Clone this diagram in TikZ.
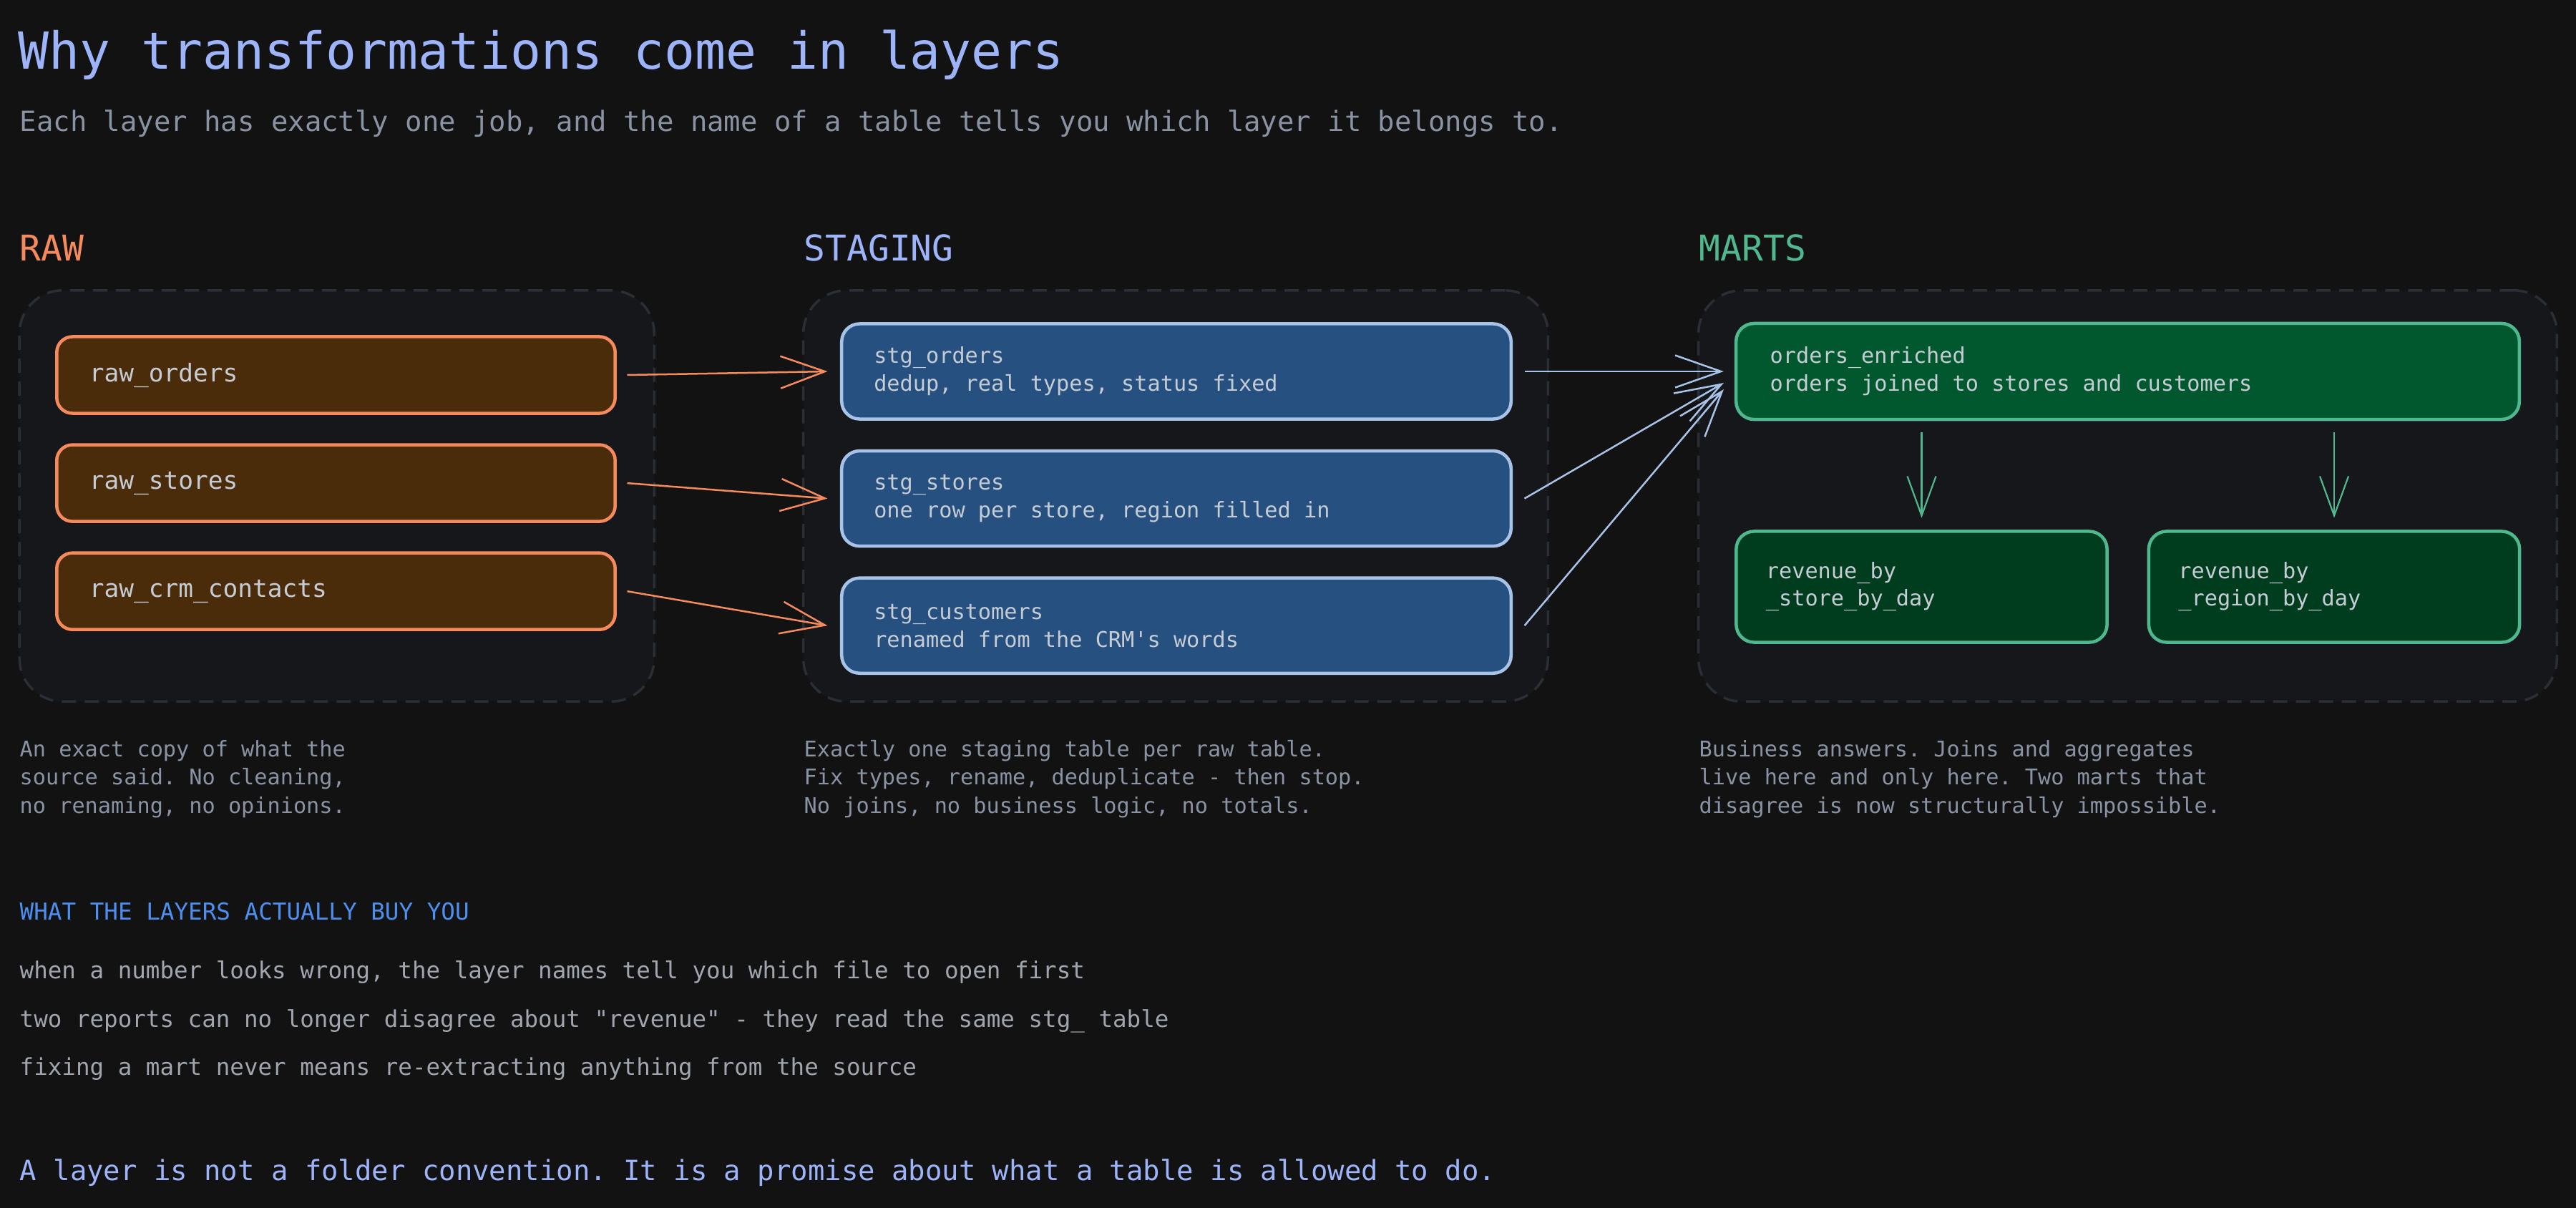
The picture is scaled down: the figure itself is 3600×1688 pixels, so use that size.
\documentclass[tikz,border=0pt]{standalone}
\usepackage{fontspec}
\setmonofont{DejaVu Sans Mono}
\usepackage{tikz}
\usetikzlibrary{shapes,arrows,arrows.meta,calc,positioning}

\definecolor{bg}{HTML}{121212}
\definecolor{layerfill}{HTML}{16171A}
\definecolor{layeredge}{HTML}{2A2E35}
\definecolor{rawedge}{HTML}{F58B5C}
\definecolor{rawfill}{HTML}{4B2C0A}
\definecolor{stgedge}{HTML}{A8C3E8}
\definecolor{stgfill}{HTML}{25507F}
\definecolor{martedge}{HTML}{50B88E}
\definecolor{martfill}{HTML}{02582E}
\definecolor{martdark}{HTML}{003D1F}
\definecolor{titleblue}{HTML}{9DB4FA}
\definecolor{labeltext}{HTML}{C6CCD4}
\definecolor{muted}{HTML}{8A93A3}
\definecolor{accent}{HTML}{4D8FF0}
\definecolor{bullettext}{HTML}{A0A5AE}

\tikzstyle{layer} = [draw=layeredge, fill=layerfill, rectangle, dash pattern=on 0.2cm off 0.12cm, line width=0.035cm, rounded corners=0.6cm]
\tikzstyle{head} = [anchor=base west, inner sep=0pt, font=\ttfamily\fontsize{14.1pt}{17pt}\selectfont]
\tikzstyle{note} = [anchor=base west, inner sep=0pt, text=muted, font=\ttfamily\fontsize{8.6pt}{11.24pt}\selectfont]
\tikzstyle{bullet} = [anchor=base west, inner sep=0pt, text=bullettext, font=\ttfamily\fontsize{9.25pt}{11pt}\selectfont]
\tikzstyle{tablebox} = [rectangle, line width=0.045cm, text=labeltext, execute at begin node={\frenchspacing\spaceskip=0.602em\relax}]
\tikzstyle{rawbox} = [tablebox, draw=rawedge, fill=rawfill, rounded corners=0.22cm, minimum height=1.07cm, text width=6.89cm, inner xsep=0.455cm, font=\ttfamily\fontsize{9.8pt}{12pt}\selectfont]
\tikzstyle{stgbox} = [tablebox, draw=stgedge, fill=stgfill, rounded corners=0.25cm, minimum height=1.33cm, text width=8.45cm, inner xsep=0.45cm, font=\ttfamily\fontsize{8.6pt}{11.1pt}\selectfont]
\tikzstyle{martbox} = [tablebox, draw=martedge, fill=martfill, rounded corners=0.25cm, minimum height=1.34cm, text width=9.99cm, inner xsep=0.475cm, font=\ttfamily\fontsize{8.6pt}{11.1pt}\selectfont]
\tikzstyle{revbox} = [martbox, fill=martdark, minimum height=1.55cm, text width=4.35cm, inner xsep=0.415cm, font=\ttfamily\fontsize{8.6pt}{10.8pt}\selectfont]
\tikzstyle{rawline} = [draw=rawedge, line width=0.025cm, -{Straight Barb[length=0.62cm, width=0.45cm]}]
\tikzstyle{stgline} = [draw=stgedge, line width=0.025cm, -{Straight Barb[length=0.64cm, width=0.45cm]}]
\tikzstyle{martline} = [draw=martedge, line width=0.022cm, -{Straight Barb[length=0.55cm, width=0.4cm]}, shorten <=0.155cm, shorten >=0.165cm]

\begin{document}
\begin{tikzpicture}[x=0.01cm, y=-0.01cm, node distance=1.51cm]
    \fill[bg] (0,0) rectangle (3600,1688);
    \useasboundingbox (0,0) rectangle (3600,1688);

    % title
    \node[anchor=base west, inner sep=0pt, text=titleblue, font=\ttfamily\fontsize{20.3pt}{24pt}\selectfont] (title) at (25,97) {Why transformations come in layers};
    \node[anchor=base west, inner sep=0pt, text=muted, font=\ttfamily\fontsize{11.07pt}{13pt}\selectfont] (subtitle) at (27,183) {Each layer has exactly one job, and the name of a table tells you which layer it belongs to.};

    % layers
    \node[head, text=rawedge] (rawhead) at (27,364) {RAW};
    \node[head, text=titleblue] (stghead) at (1123,364) {STAGING};
    \node[head, text=martedge] (marthead) at (2374,364) {MARTS};
    \node[layer, minimum width=8.865cm, minimum height=5.74cm] (rawlayer) at (470.75,693) {};
    \node[layer, minimum width=10.4cm, minimum height=5.74cm] (stglayer) at (1643,693) {};
    \node[layer, minimum width=11.99cm, minimum height=5.74cm] (martlayer) at (2973.5,693) {};

    \node[rawbox] (raw_orders) at (469.5,524) {raw\_orders};
    \node[rawbox, below of=raw_orders] (raw_stores) {raw\_stores};
    \node[rawbox, below of=raw_stores] (raw_crm) {raw\_crm\_contacts};

    \node[stgbox] (stg_orders) at (1644,519) {stg\_orders\\dedup, real types, status fixed};
    \node[stgbox, node distance=1.775cm, below of=stg_orders] (stg_stores) {stg\_stores\\one row per store, region filled in};
    \node[stgbox, node distance=1.775cm, below of=stg_stores] (stg_customers) {stg\_customers\\renamed from the CRM's words};

    \node[martbox] (orders_enriched) at (2973.5,519) {orders\_enriched\\orders joined to stores and customers};
    \node[revbox] (rev_store) at (2685.5,820) {revenue\_by\\\_store\_by\_day};
    \node[revbox] (rev_region) at (3262,820) {revenue\_by\\\_region\_by\_day};

    \path[rawline] ([xshift=0.145cm]raw_orders.east) -- ([xshift=-0.175cm]stg_orders.west);
    \path[rawline] ([xshift=0.145cm]raw_stores.east) -- ([xshift=-0.175cm]stg_stores.west);
    \path[rawline] ([xshift=0.145cm]raw_crm.east) -- ([xshift=-0.175cm]stg_customers.west);

    \path[stgline] ([xshift=0.165cm]stg_orders.east) -- ([xshift=-0.15cm]orders_enriched.west);
    \path[stgline] ([xshift=0.165cm]stg_stores.east) -- ([xshift=-0.15cm, yshift=-0.16cm]orders_enriched.west);
    \path[stgline] ([xshift=0.165cm]stg_customers.east) -- ([xshift=-0.15cm, yshift=-0.25cm]orders_enriched.west);

    \path[martline] (rev_store.north |- orders_enriched.south) -- (rev_store.north);
    \path[martline] (rev_region.north |- orders_enriched.south) -- (rev_region.north);

    % notes under each layer
    \node[note] (rawnote) at (27,1057) {\begin{tabular}[t]{@{}l@{}}An exact copy of what the\\source said. No cleaning,\\no renaming, no opinions.\end{tabular}};
    \node[note] (stgnote) at (1123,1057) {\begin{tabular}[t]{@{}l@{}}Exactly one staging table per raw table.\\Fix types, rename, deduplicate - then stop.\\No joins, no business logic, no totals.\end{tabular}};
    \node[note] (martnote) at (2374,1057) {\begin{tabular}[t]{@{}l@{}}Business answers. Joins and aggregates\\live here and only here. Two marts that\\disagree is now structurally impossible.\end{tabular}};

    % what they buy
    \node[anchor=base west, inner sep=0pt, text=accent, font=\ttfamily\fontsize{9.27pt}{11pt}\selectfont] (buyhead) at (27,1285) {WHAT THE LAYERS ACTUALLY BUY YOU};
    \node[bullet] (buy1) at (27,1367) {when a number looks wrong, the layer names tell you which file to open first};
    \node[bullet] (buy2) at (27,1435) {two reports can no longer disagree about "revenue" - they read the same stg\_ table};
    \node[bullet] (buy3) at (27,1502) {fixing a mart never means re-extracting anything from the source};

    \node[anchor=base west, inner sep=0pt, text=titleblue, font=\ttfamily\fontsize{11.07pt}{13pt}\selectfont] (promise) at (27,1649) {A layer is not a folder convention. It is a promise about what a table is allowed to do.};
\end{tikzpicture}
\end{document}
